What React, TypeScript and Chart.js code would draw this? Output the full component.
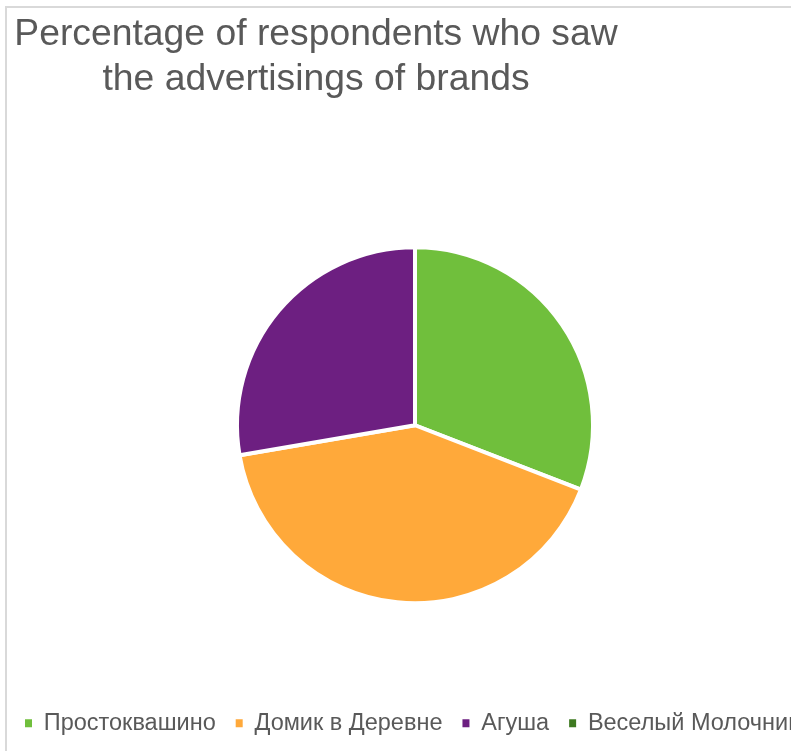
import React, { useEffect, useRef } from "react";
import { Chart, registerables } from "chart.js";

Chart.register(...registerables);

const TITLE_LINES = ["Percentage of respondents who saw", "the advertisings of brands"];
const BRANDS = ["Простоквашино", "Домик в Деревне", "Агуша", "Веселый Молочник"];
const SHARES = [30.9, 41.4, 27.7, 0];
const COLORS = ["#70BF3C", "#FFA93A", "#6D1F81", "#3E7A21"];

const FONT = "'Liberation Sans', Arial, sans-serif";
const TEXT_COLOR = "#595959";

const framePlugin = {
  id: "frameAndTitle",
  beforeDraw(chart: any) {
    const ctx = chart.ctx;
    ctx.save();
    ctx.fillStyle = "#ffffff";
    ctx.fillRect(0, 0, chart.width, chart.height);
    ctx.strokeStyle = "#d9d9d9";
    ctx.lineWidth = 2;
    ctx.strokeRect(6, 7, chart.width + 20, chart.height + 20);
    ctx.restore();
  },
  afterDraw(chart: any) {
    const ctx = chart.ctx;
    ctx.save();
    ctx.fillStyle = TEXT_COLOR;
    ctx.font = `37.3px ${FONT}`;
    ctx.textAlign = "center";
    ctx.textBaseline = "alphabetic";
    ctx.fillText(TITLE_LINES[0], 316, 45);
    ctx.fillText(TITLE_LINES[1], 316, 90);
    ctx.restore();
  },
};

export default function App() {
  const ref = useRef<HTMLCanvasElement>(null);
  useEffect(() => {
    if (!ref.current) return;
    const chart = new Chart(ref.current, {
      type: "pie",
      data: {
        labels: BRANDS,
        datasets: [
          {
            data: SHARES,
            backgroundColor: COLORS,
            borderColor: "#ffffff",
            borderWidth: 4,
            radius: 178,
          } as any,
        ],
      },
      options: {
        responsive: false,
        animation: false,
        layout: { padding: { top: 159, left: 5, right: 25, bottom: 6 } },
        plugins: {
          title: { display: false },
          tooltip: { enabled: false },
          legend: {
            display: true,
            position: "bottom",
            align: "start",
            labels: {
              boxWidth: 7,
              boxHeight: 8,
              padding: 20,
              color: TEXT_COLOR,
              font: { family: FONT, size: 23.5 },
              generateLabels(chart: any) {
                const items = (Chart as any).overrides.pie.plugins.legend.labels.generateLabels(chart);
                return items.map((it: any) => ({ ...it, lineWidth: 0, strokeStyle: it.fillStyle, hidden: false }));
              },
            },
          },
        },
      },
      plugins: [framePlugin],
    });
    return () => chart.destroy();
  }, []);
  return (
    <div style={{ position: "fixed", left: 0, top: 0, width: 791, height: 751, overflow: "hidden", background: "#fff" }}>
      <canvas ref={ref} width={850} height={751} style={{ display: "block" }} />
    </div>
  );
}
